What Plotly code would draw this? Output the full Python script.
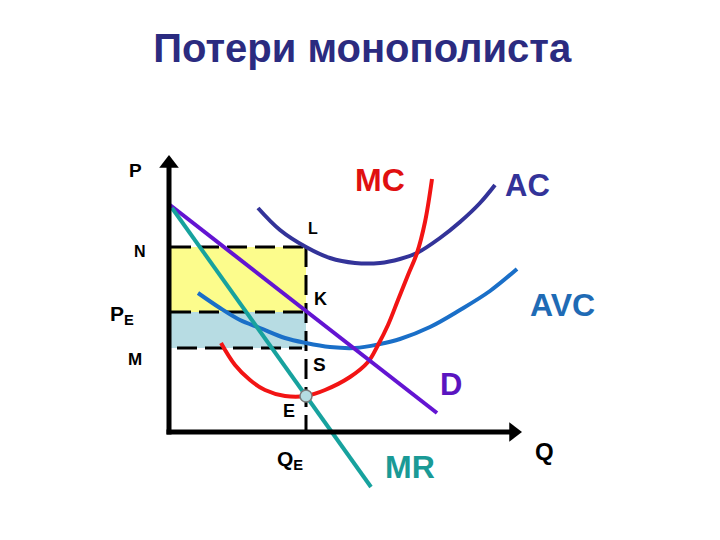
import plotly.graph_objects as go

# ---- data (Q, P units) ----
d_q = [0.0, 26.7]
d_p = [22.7, 1.9]

mr_q = [0.2, 13.6, 20.1]
mr_p = [22.4, 3.6, -5.5]

mc_q = [5.1, 6.5, 8.0, 9.5, 11.5, 13.6, 15.5, 18.0, 19.8, 20.8, 21.8, 22.8, 23.8, 24.7, 25.5, 26.2]
mc_p = [8.9, 6.7, 5.2, 4.2, 3.6, 3.6, 4.2, 5.5, 7.0, 8.7, 10.7, 13.2, 15.7, 17.9, 21.0, 25.3]

ac_q = [8.8, 11.0, 13.6, 16.0, 18.5, 21.0, 23.0, 24.7, 27.0, 29.0, 31.0, 32.5]
ac_p = [22.4, 20.2, 18.5, 17.4, 16.9, 16.9, 17.3, 17.9, 19.4, 21.0, 22.9, 24.7]

avc_q = [2.8, 5.0, 7.0, 9.0, 11.5, 13.6, 16.0, 18.5, 21.0, 23.0, 26.0, 29.0, 32.0, 34.7]
avc_p = [13.9, 12.4, 11.2, 10.4, 9.4, 8.9, 8.5, 8.4, 8.8, 9.3, 10.5, 12.2, 14.1, 16.3]

q_e = 13.6
p_e_point = 3.6
level_n = 18.5
level_pe = 12.0
level_m = 8.4
axis_q_max = 35.2
axis_p_max = 27.7

title_text = "Потери монополиста"

# label texts
labels = ["P", "N", "P<sub>E</sub>", "M", "MC", "AC", "L", "K", "AVC", "S", "D", "E", "Q<sub>E</sub>", "MR", "Q"]

FONT = "Liberation Sans, Arial, sans-serif"

fig = go.Figure()

# rectangles and dashed guides (below traces)
shapes = [
    dict(type="rect", xref="x", yref="y", x0=0, x1=q_e, y0=level_pe, y1=level_n,
         fillcolor="#FCFC8C", line=dict(width=0), layer="below"),
    dict(type="rect", xref="x", yref="y", x0=0, x1=q_e, y0=level_m, y1=level_pe,
         fillcolor="#B7DCE3", line=dict(width=0), layer="below"),
]
dash = dict(color="black", width=3, dash="20px,8px")
shapes += [
    dict(type="line", xref="x", yref="y", x0=0.1, x1=q_e, y0=level_n, y1=level_n, line=dash, layer="below"),
    dict(type="line", xref="x", yref="y", x0=0.1, x1=q_e, y0=level_pe, y1=level_pe, line=dash, layer="below"),
    dict(type="line", xref="x", yref="y", x0=0.7, x1=13.2, y0=level_m, y1=level_m, line=dash, layer="below"),
    dict(type="line", xref="x", yref="y", x0=q_e, x1=q_e, y0=level_n, y1=0, line=dash, layer="below"),
]
# axes lines
axis_line = dict(color="black", width=5)
shapes += [
    dict(type="line", xref="x", yref="y", x0=-0.1, x1=-0.1, y0=-0.25, y1=axis_p_max - 1.0, line=axis_line),
    dict(type="line", xref="x", yref="y", x0=-0.35, x1=axis_q_max - 1.0, y0=0, y1=0, line=axis_line),
]

# curves
fig.add_trace(go.Scatter(x=ac_q, y=ac_p, mode="lines", line=dict(color="#333399", width=4, shape="spline"), hoverinfo="skip"))
fig.add_trace(go.Scatter(x=avc_q, y=avc_p, mode="lines", line=dict(color="#1A6FC8", width=4, shape="spline"), hoverinfo="skip"))
fig.add_trace(go.Scatter(x=mc_q, y=mc_p, mode="lines", line=dict(color="#F21414", width=4, shape="spline"), hoverinfo="skip"))
fig.add_trace(go.Scatter(x=d_q, y=d_p, mode="lines", line=dict(color="#6314D2", width=4), hoverinfo="skip"))
fig.add_trace(go.Scatter(x=mr_q, y=mr_p, mode="lines", line=dict(color="#17A29E", width=4), hoverinfo="skip"))
fig.add_trace(go.Scatter(x=[q_e], y=[p_e_point], mode="markers",
                         marker=dict(size=12, color="#B4DCE2", line=dict(color="#7A7A7A", width=1.5)),
                         hoverinfo="skip"))
# arrow heads of the axes
fig.add_trace(go.Scatter(x=[-0.1], y=[axis_p_max - 0.85], mode="markers",
                         marker=dict(symbol="triangle-up", size=17, color="black"), hoverinfo="skip"))
fig.add_trace(go.Scatter(x=[axis_q_max - 0.85], y=[0], mode="markers",
                         marker=dict(symbol="triangle-right", size=17, color="black"), hoverinfo="skip"))

ann = []
label_pos = [
    (-3.5, 26.2, 19, "black"),
    (-3.0, 18.1, 16, "black"),
    (-4.8, 11.7, 21, "black"),
    (-3.5, 7.3, 17, "black"),
    (21.0, 25.2, 32, "#E01010"),
    (35.7, 24.7, 31, "#333399"),
    (14.3, 20.4, 16, "black"),
    (15.0, 13.3, 18, "black"),
    (39.2, 12.7, 32, "#1F6BB5"),
    (14.9, 6.8, 19, "black"),
    (28.1, 4.8, 31, "#5A14C0"),
    (11.9, 2.1, 18, "black"),
    (12.0, -2.8, 21, "black"),
    (24.0, -3.5, 32, "#1A9A96"),
    (37.4, -1.9, 24, "black"),
]
for t, (x, y, s, c) in zip(labels, label_pos):
    ann.append(dict(x=x, y=y, xref="x", yref="y", text=t, showarrow=False,
                    font=dict(family=FONT, size=s, color=c, weight="bold"),
                    xanchor="center", yanchor="middle"))

fig.update_layout(
    width=720, height=540,
    margin=dict(l=0, r=0, t=0, b=0),
    paper_bgcolor="white", plot_bgcolor="white",
    showlegend=False,
    title=dict(text=title_text, x=0.492, xanchor="center", y=0.926, yanchor="middle",
               font=dict(family=FONT, size=40, color="#2B2B80", weight="bold")),
    xaxis=dict(range=[-16.2, 55.8], visible=False, fixedrange=True),
    yaxis=dict(range=[-11.6, 42.4], visible=False, fixedrange=True),
    shapes=shapes,
    annotations=ann,
)

fig.write_html("out.html")
